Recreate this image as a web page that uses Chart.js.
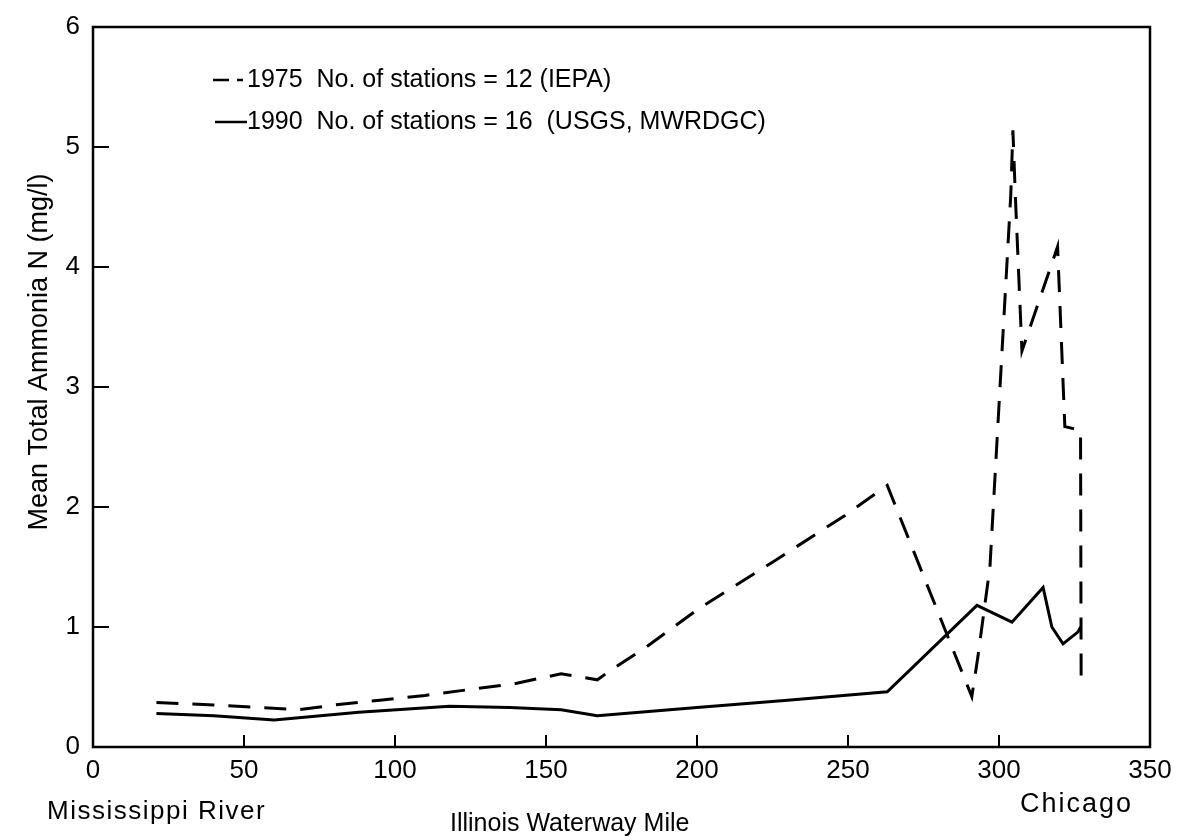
<!DOCTYPE html>
<html>
<head>
<meta charset="utf-8">
<script src="https://cdn.jsdelivr.net/npm/chart.js@4.4.1/dist/chart.umd.min.js"></script>
<style>
  body { margin: 0; background: #fff; }
  #grafico { display: block; }
</style>
</head>
<body>
<canvas id="grafico" width="1179" height="837"></canvas>
<script>
// datos (milla del Illinois Waterway vs amonio total medio, mg/l)
const millas1975 = [21, 40, 55, 68, 80, 95, 110, 125, 140, 155, 167, 172, 183, 201, 225, 249, 263, 291, 293, 297, 303.9, 304.6, 305.4, 307.6, 319.4, 321.8, 327, 327.2];
const amonio1975 = [0.37, 0.35, 0.33, 0.31, 0.35, 0.39, 0.43, 0.48, 0.53, 0.61, 0.56, 0.65, 0.83, 1.16, 1.54, 1.93, 2.18, 0.42, 0.75, 1.5, 4.6, 5.14, 4.6, 3.3, 4.17, 2.67, 2.64, 0.57];

const millas1990 = [21, 40, 60, 88, 118, 138, 155, 167, 200, 230, 263, 292.7, 296, 304.3, 314.6, 317.5, 321.2, 326.2, 327];
const amonio1990 = [0.28, 0.26, 0.225, 0.29, 0.34, 0.33, 0.31, 0.26, 0.33, 0.39, 0.46, 1.18, 1.14, 1.04, 1.33, 1.0, 0.86, 0.96, 1.0];

const etiquetas = ['1975  No. of stations = 12 (IEPA)', '1990  No. of stations = 16  (USGS, MWRDGC)'];
const tituloY = 'Mean Total Ammonia N (mg/l)';
const tituloX = 'Illinois Waterway Mile';
const extremoIzq = 'Mississippi River';
const extremoDer = 'Chicago';

const fuente = "'Liberation Sans', Arial, sans-serif";

function puntos(xs, ys) {
    return xs.map((x, i) => ({ x: x, y: ys[i] }));
}

// marco alrededor del area del grafico
const marco = {
    id: 'marco',
    afterDatasetsDraw(chart) {
        const { ctx, chartArea: a } = chart;
        ctx.save();
        ctx.strokeStyle = '#000';
        ctx.lineWidth = 2.5;
        ctx.strokeRect(a.left, a.top, a.right - a.left, a.bottom - a.top);
        ctx.restore();
    }
};

// leyenda, titulo del eje y y textos bajo el eje x
const textos = {
    id: 'textos',
    afterDraw(chart) {
        const ctx = chart.ctx;
        ctx.save();
        ctx.fillStyle = '#000';
        ctx.strokeStyle = '#000';
        ctx.textBaseline = 'middle';
        ctx.font = '25px ' + fuente;

        // 1975 (segmentada)
        ctx.lineWidth = 2.5;
        ctx.setLineDash([16, 8]);
        ctx.beginPath();
        ctx.moveTo(213, 80);
        ctx.lineTo(243, 80);
        ctx.stroke();
        ctx.setLineDash([]);
        ctx.fillText(etiquetas[0], 247, 80);

        // 1990 (continua)
        ctx.beginPath();
        ctx.moveTo(215, 122);
        ctx.lineTo(247, 122);
        ctx.stroke();
        ctx.fillText(etiquetas[1], 247, 122);

        ctx.font = '26px ' + fuente;
        ctx.letterSpacing = '1.5px';
        ctx.fillText(extremoIzq, 47, 812);
        ctx.letterSpacing = '0px';
        ctx.font = '25px ' + fuente;
        ctx.fillText(tituloX, 450, 824);
        ctx.font = '27px ' + fuente;
        ctx.letterSpacing = '2px';
        ctx.fillText(extremoDer, 1020, 805);
        ctx.letterSpacing = '0px';

        // titulo eje y
        ctx.translate(40, 352);
        ctx.rotate(-Math.PI / 2);
        ctx.textAlign = 'center';
        ctx.font = '27px ' + fuente;
        ctx.fillText(tituloY, 0, 0);
        ctx.restore();
    }
};

const config = {
    type: 'line',
    data: {
        datasets: [
            {
                label: etiquetas[0],
                data: puntos(millas1975, amonio1975),
                borderColor: '#000',
                borderWidth: 3,
                borderDash: [22, 14],
                pointRadius: 0,
                tension: 0,
                fill: false
            },
            {
                label: etiquetas[1],
                data: puntos(millas1990, amonio1990),
                borderColor: '#000',
                borderWidth: 3,
                pointRadius: 0,
                tension: 0,
                fill: false
            }
        ]
    },
    options: {
        responsive: false,
        animation: false,
        layout: { padding: { top: 27, right: 29, left: 0, bottom: 0 } },
        plugins: {
            legend: { display: false },
            tooltip: { enabled: false }
        },
        scales: {
            x: {
                type: 'linear',
                min: 0,
                max: 350,
                border: { display: false },
                grid: { drawOnChartArea: false, drawTicks: true, tickLength: -12, color: '#000', lineWidth: 2 },
                ticks: { stepSize: 50, color: '#000', padding: 20, font: { family: fuente, size: 26 }, maxRotation: 0 },
                afterFit(scale) {
                    scale.height = 90;
                    scale.paddingLeft = 0;
                    scale.paddingRight = 0;
                }
            },
            y: {
                min: 0,
                max: 6,
                border: { display: false },
                grid: { drawOnChartArea: false, drawTicks: true, tickLength: -16, color: '#000', lineWidth: 2 },
                ticks: { stepSize: 1, color: '#000', padding: 29, font: { family: fuente, size: 26 } },
                afterFit(scale) {
                    scale.width = 93;
                    scale.paddingTop = 0;
                    scale.paddingBottom = 0;
                }
            }
        }
    },
    plugins: [marco, textos]
};

const grafico = new Chart(document.getElementById('grafico'), config);
</script>
</body>
</html>
